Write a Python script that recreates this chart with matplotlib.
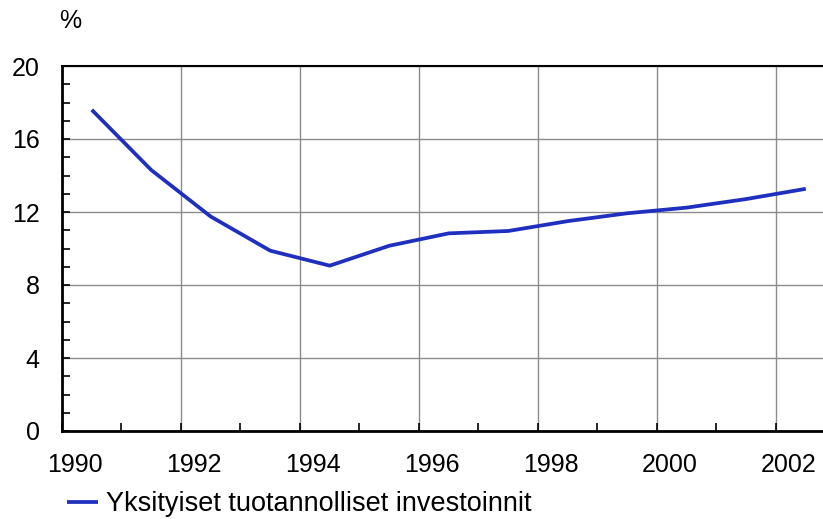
import matplotlib
matplotlib.use("Agg")
import matplotlib.pyplot as plt
import matplotlib.transforms as mtransforms
from matplotlib.ticker import MultipleLocator

plt.rcParams['font.family'] = ['Liberation Sans', 'DejaVu Sans']

years = [1990, 1991, 1992, 1993, 1994, 1995, 1996, 1997, 1998, 1999, 2000, 2001, 2002]
values = [17.6, 14.3, 11.75, 9.88, 9.06, 10.15, 10.83, 10.96, 11.5, 11.93, 12.24, 12.71, 13.27]
series_label = "Yksityiset tuotannolliset investoinnit"
x_ticks = [1990, 1992, 1994, 1996, 1998, 2000, 2002]
y_ticks = [0, 4, 8, 12, 16, 20]

fig = plt.figure(figsize=(8.23, 5.19), dpi=100)
ax = fig.add_axes([62/823, 1 - 431/519, 1 - 62/823, (431 - 66)/519])

xs = [y + 0.5 for y in years]
line, = ax.plot(xs, values, color='#1f2fbf', lw=2.7, solid_capstyle='butt', zorder=3)

ax.set_xlim(1990, 2002.79)
ax.set_ylim(0, 20)
ax.set_xticks(x_ticks)
ax.set_xticklabels([str(t) for t in x_ticks])
ax.set_yticks(y_ticks)
ax.set_yticklabels([str(t) for t in y_ticks])
ax.xaxis.set_minor_locator(MultipleLocator(1))
ax.yaxis.set_minor_locator(MultipleLocator(1))

ax.grid(True, which='major', color='#8c8c8c', lw=1.0, zorder=0)
ax.tick_params(axis='both', which='both', direction='in', length=6, width=1.2, color='black')
ax.tick_params(axis='x', which='major', pad=16, labelsize=18)
ax.tick_params(axis='y', which='major', pad=16, labelsize=18)
ax.tick_params(top=False, right=False)

for side in ['left', 'bottom']:
    ax.spines[side].set_linewidth(2.0)
ax.spines['top'].set_linewidth(1.5)
ax.spines['right'].set_visible(False)

offset = mtransforms.ScaledTranslation(13/100, 0, fig.dpi_scale_trans)
for lab in ax.get_xticklabels():
    lab.set_transform(lab.get_transform() + offset)

fig.text(59/823, 1 - 21/519, '%', fontsize=18, ha='left', va='center')

fig.legend([line], [series_label], loc='center left', bbox_to_anchor=(67/823, 1 - 504/519),
           frameon=False, fontsize=19.5, handlelength=1.15, handletextpad=0.3,
           borderaxespad=0, borderpad=0)

fig.savefig('out.png', dpi=100)
